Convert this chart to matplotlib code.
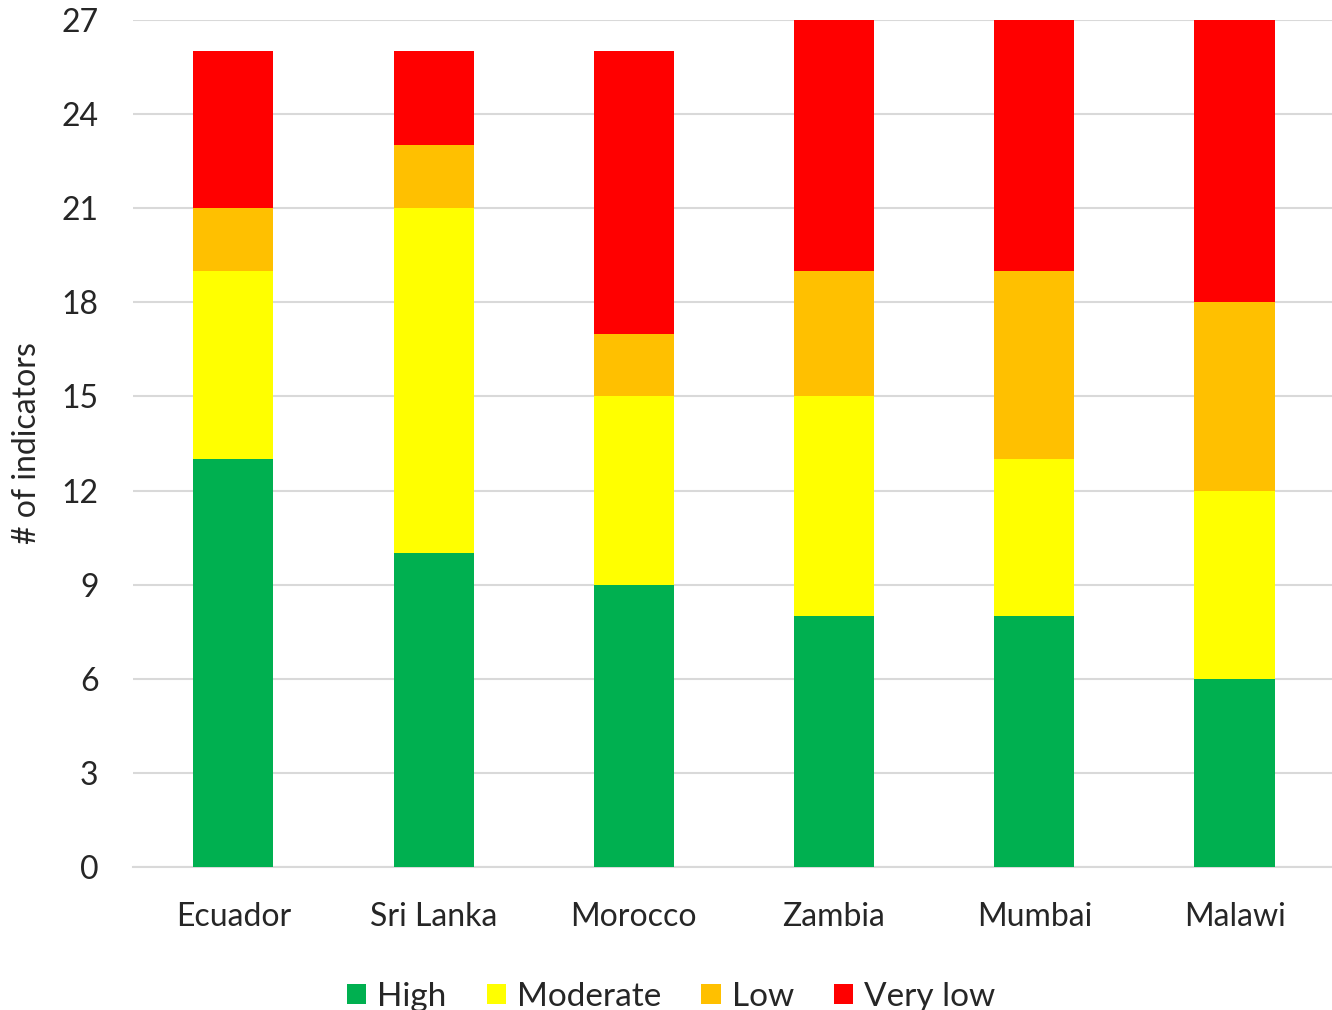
import numpy as np
import matplotlib.pyplot as plt

plt.rcParams['font.family'] = ['Lato', 'DejaVu Sans']

countries = ['Ecuador', 'Sri Lanka', 'Morocco', 'Zambia', 'Mumbai', 'Malawi']
high = [13, 10, 9, 8, 8, 6]
moderate = [6, 11, 6, 7, 5, 6]
low = [2, 2, 2, 4, 6, 6]
very_low = [5, 3, 9, 8, 8, 9]

series = [('High', high, '#00B050'),
          ('Moderate', moderate, '#FFFF00'),
          ('Low', low, '#FFC000'),
          ('Very low', very_low, '#FF0000')]

text_col = '#262626'

fig = plt.figure(figsize=(13.32, 10.10), dpi=100)
ax = fig.add_axes([0.1, 0.1416, 0.905, 0.8386])

x = np.arange(len(countries))
bottom = np.zeros(len(countries))
for name, vals, col in series:
    ax.bar(x, vals, width=0.4, bottom=bottom, color=col, label=name, zorder=3)
    bottom += np.array(vals)

ax.set_ylim(0, 27)
ax.set_xlim(-0.5, 5.52)
ax.set_yticks(range(0, 28, 3))
ax.set_xticks(x)
ax.set_xticklabels(countries)
ax.grid(axis='y', color='#d9d9d9', linewidth=1.5, zorder=0)
for s in ['top', 'right', 'left']:
    ax.spines[s].set_visible(False)
ax.spines['bottom'].set_color('#d9d9d9')
ax.spines['bottom'].set_linewidth(1.5)
ax.tick_params(axis='both', length=0, labelsize=23, colors=text_col)
ax.tick_params(axis='x', pad=25)
ax.tick_params(axis='y', pad=25)
ax.set_ylabel('# of indicators', fontsize=23, color=text_col, labelpad=14)

fig.legend(loc='center', bbox_to_anchor=(0.504, 0.013), ncol=4, frameon=False,
           fontsize=24, handlelength=0.58, handleheight=0.58, handletextpad=0.33,
           columnspacing=1.2, labelcolor=text_col)

fig.savefig('out.png')
